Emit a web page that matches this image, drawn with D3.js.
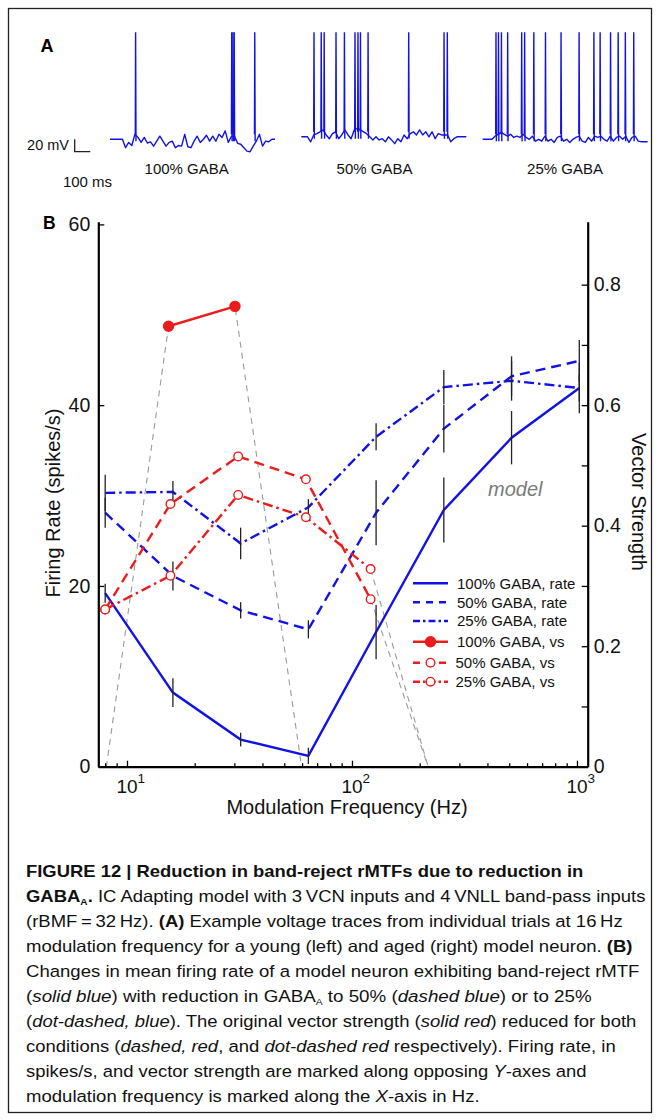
<!DOCTYPE html>
<html lang="en">
<head>
<meta charset="utf-8">
<style>
  html, body { margin:0; padding:0; background:#fff; }
  svg { display:block; font-family: "Liberation Sans", Arial, sans-serif; }
  .axis path, .axis line { stroke:#000; }
  .axis path { stroke-width:2.2px; }
  .axis line { stroke-width:1.3px; }
  .axis text { font-size:19.5px; fill:#111; }
</style>
</head>
<body>
<svg width="658" height="1120"></svg>
<script src="https://d3js.org/d3.v7.min.js"></script>
<script>
// ---------- panel A : voltage traces, mV above rest, one sample every 20 ms ----------
var traceStep = 20;
var traceLabels = ["100% GABA", "50% GABA", "25% GABA"];
var trace100 = [0,0,0,0,0, -13.5,-5,-10,8,3, -5,3,-6,-4,-11, -3,5,-3,-11,-5,
                -3,-13.5,-10,-11,8, -12,-13.5,-3,5,-5, 0,6.5,-3,5,-3, 8,3,13.5,-5,5,
                5,-6.5,-8,-13.5,-19, -20,-11,-3,8,-11, -3,-4,0,0];
var trace50  = [0,0,0,-8,3, 5,8,11,3,-3, 5,8,-3,3,11, 3,-3,11,13.5,11,
                8,5,0,-5,0, -5,-3,-8,0,-5, -11,-3,-8,3,-3, 5,8,3,11,3,
                8,0,8,-3,5, 3,3,3,-8,-3, 0,0,0,0];
var trace25  = [0,0,0,0,5, 8,11,8,5,8, 3,5,3,8,3, 0,5,-3,0,-3,
                5,-3,0,-5,3, 5,-3,0,-5,0, 3,5,-3,-5,3, -3,5,3,5,0,
                -3,5,-3,3,5, 0,5,-5,3,5, -3,-4,-4,-4];
var spikes100 = [164.5, 782, 790, 798, 930];
var spikes50  = [81.5, 128, 147, 223, 277, 345, 364, 380, 429, 690, 917, 938];
var spikes25  = [86, 102, 121, 161, 251, 270, 329, 404, 504, 620, 715, 755, 822, 871, 917, 971];
var traceRest = [0, 4, 0];
var spikePeak = 172;     // mV above rest
var spikeFoot = 8;
var scaleBarMv = 20, scaleBarMs = 100;

// ---------- panel B : rate (left axis) and vector strength (right axis) ----------
var freqs = [8, 16, 32, 64, 128, 256, 512, 1024];
var rate100 = [19.2, 8.2, 3.0, 1.2, 14.9, 28.4, 36.4, 41.9];
var rate100Err = [1.05, 1.6, 0.75, 0.9, 3.0, 3.6, 2.95, 2.8];
var rate50 = [28.1, 21.1, 17.3, 15.2, 28.1, 37.4, 43.2, 44.9];
var rate50Err = [1.65, 1.6, 0.9, 1.0, 3.6, 2.65, 2.2, 2.3];
var rate25 = [30.3, 30.4, 24.7, 28.7, 36.5, 42.0, 42.7, 41.9];
var rate25Err = [2.0, 1.2, 1.75, 0.9, 1.5, 1.9, 2.2, 1.5];

var vsFreq100 = [15.3, 30.2];
var vs100 = [0.731, 0.764];
var vsFreq = [8, 15.6, 31.2, 62.4, 121];
var vs50 = [0.261, 0.436, 0.515, 0.477, 0.278];
var vs25 = [0.261, 0.317, 0.451, 0.414, 0.328];
// grey dashed connectors to the points where vector strength drops to zero
var greyFreq100 = [8.1, 15.3, 30.2, 59.7];
var greyVs100 = [0, 0.731, 0.764, 0];
var greyTailFreq = [121, 218];
var greyTail50 = [0.278, 0];
var greyTail25 = [0.328, 0];

var leftTicks = [0, 20, 40, 60];
var rightTicks = [0, 0.1, 0.2, 0.3, 0.4, 0.5, 0.6, 0.7, 0.8];
var rightTickLabels = ["0", "", "0.2", "", "0.4", "", "0.6", "", "0.8"];
var xMajor = [10, 100, 1000];
var xMajorExp = ["1", "2", "3"];
var xMinor = [8, 9, 20, 30, 40, 50, 60, 70, 80, 90, 200, 300, 400, 500, 600, 700, 800, 900];

var legendLabels = ["100% GABA, rate", "50% GABA, rate", "25% GABA, rate",
                    "100% GABA, vs", "50% GABA, vs", "25% GABA, vs"];

var captionLines = [
  [["b", "FIGURE 12 | Reduction in band-reject rMTFs due to reduction in"]],
  [["b", "GABA"], ["bs", "A"], ["b", "."], ["", " IC Adapting model with 3\u2009VCN inputs and 4\u2009VNLL band-pass inputs"]],
  [["", "(rBMF\u2009=\u200932\u2009Hz). "], ["b", "(A)"], ["", " Example voltage traces from individual trials at 16\u2009Hz"]],
  [["", "modulation frequency for a young (left) and aged (right) model neuron. "], ["b", "(B)"]],
  [["", "Changes in mean firing rate of a model neuron exhibiting band-reject rMTF"]],
  [["", "("], ["i", "solid blue"], ["", ") with reduction in GABA"], ["s", "A"], ["", " to 50% ("], ["i", "dashed blue"], ["", ") or to 25%"]],
  [["", "("], ["i", "dot-dashed, blue"], ["", "). The original vector strength ("], ["i", "solid red"], ["", ") reduced for both"]],
  [["", "conditions ("], ["i", "dashed, red"], ["", ", and "], ["i", "dot-dashed red"], ["", " respectively). Firing rate, in"]],
  [["", "spikes/s, and vector strength are marked along opposing "], ["i", "Y"], ["", "-axes and"]],
  [["", "modulation frequency is marked along the "], ["i", "X"], ["", "-axis in Hz."]]
];
var captionWidths = [558, 620, 597, 607, 614, 566, 611, 590, 561, 454];

var blue = "#1212e6", red = "#ea1c1c", grey = "#9a9a9a";

var svg = d3.select("svg");
svg.append("rect").attr("width", 658).attr("height", 1120).attr("fill", "#fff");
svg.append("rect")
    .attr("x", 8.5).attr("y", 8.5).attr("width", 643).attr("height", 1104)
    .attr("fill", "none").attr("stroke", "#222").attr("stroke-width", 1.3);

// ================= panel A =================
var tx = d3.scaleLinear().domain([0, 1060]).range([0, 165]);
var ty = d3.scaleLinear().domain([0, spikePeak]).range([139.3, 32.3]);
var traceX0 = [110, 301.3, 482.6];
var traces = [trace100, trace50, trace25];
var spikeSets = [spikes100, spikes50, spikes25];
var labelCx = [186.7, 374.5, 565];

svg.append("text").attr("x", 40.5).attr("y", 52)
    .attr("font-weight", "bold").attr("font-size", 18).text("A");

traces.forEach(function (tr, i) {
    var g = svg.append("g").attr("transform", "translate(" + traceX0[i] + ",0)");
    var line = d3.line()
        .x(function (v, j) { return tx(j * traceStep); })
        .y(function (v) { return ty(v + traceRest[i]); });
    g.append("path").datum(tr).attr("d", line)
        .attr("fill", "none").attr("stroke", blue).attr("stroke-width", 1.4)
        .attr("stroke-linejoin", "round");
    g.selectAll(".spike").data(spikeSets[i]).enter().append("path")
        .attr("class", "spike")
        .attr("d", function (t) {
            return "M" + tx(t - 2) + "," + ty(spikeFoot + traceRest[i]) +
                   "L" + tx(t) + "," + ty(spikePeak) +
                   "L" + tx(t + 2.5) + "," + ty(traceRest[i] - 3);
        })
        .attr("fill", "none").attr("stroke", blue).attr("stroke-width", 1.4);
    svg.append("text").attr("x", labelCx[i]).attr("y", 174)
        .attr("text-anchor", "middle").attr("font-size", 15).attr("fill", "#111")
        .text(traceLabels[i]);
});

// scale bar
var sb = svg.append("g").attr("transform", "translate(74.7,151.7)");
sb.append("path")
    .attr("d", "M0," + (ty(scaleBarMv) - ty(0)) + "V0H" + tx(scaleBarMs))
    .attr("fill", "none").attr("stroke", "#222").attr("stroke-width", 1.3);
svg.append("text").attr("x", 69).attr("y", 150).attr("text-anchor", "end")
    .attr("font-size", 14.5).attr("fill", "#111").text(scaleBarMv + " mV");
svg.append("text").attr("x", 87.5).attr("y", 187).attr("text-anchor", "middle")
    .attr("font-size", 15).attr("fill", "#111").text(scaleBarMs + " ms");

// ================= panel B =================
var x = d3.scaleLog().domain([7.456, 1116]).range([98.3, 587.7]);
var yL = d3.scaleLinear().domain([0, 60.3]).range([766.7, 221.7]);
var yR = d3.scaleLinear().domain([0, 0.9045]).range([766.7, 221.7]);

svg.append("text").attr("x", 43).attr("y", 229.3)
    .attr("font-weight", "bold").attr("font-size", 17.5).text("B");

// grey connectors
function greyLine(fs, vs) {
    svg.append("path")
        .datum(fs.map(function (f, i) { return [f, vs[i]]; }))
        .attr("d", d3.line().x(function (d) { return x(d[0]); }).y(function (d) { return yR(d[1]); }))
        .attr("fill", "none").attr("stroke", grey).attr("stroke-width", 1.1)
        .attr("stroke-dasharray", "6,5");
}
greyLine(greyFreq100, greyVs100);
greyLine(greyTailFreq, greyTail50);
greyLine(greyTailFreq, greyTail25);

var rateLine = d3.line().x(function (d) { return x(d[0]); }).y(function (d) { return yL(d[1]); });
var vsLine = d3.line().x(function (d) { return x(d[0]); }).y(function (d) { return yR(d[1]); });

var rateSeries = [
    { v: rate100, e: rate100Err, dash: null },
    { v: rate50, e: rate50Err, dash: "10,6" },
    { v: rate25, e: rate25Err, dash: "10,4,2.5,4" }
];
rateSeries.forEach(function (s) {
    svg.append("path")
        .datum(freqs.map(function (f, i) { return [f, s.v[i]]; }))
        .attr("d", rateLine)
        .attr("fill", "none").attr("stroke", blue).attr("stroke-width", 2.4)
        .attr("stroke-dasharray", s.dash);
});
// error bars
rateSeries.forEach(function (s) {
    svg.selectAll(null).data(freqs).enter().append("line")
        .attr("x1", function (f) { return x(f); })
        .attr("x2", function (f) { return x(f); })
        .attr("y1", function (f, i) { return yL(s.v[i] - s.e[i]); })
        .attr("y2", function (f, i) { return yL(s.v[i] + s.e[i]); })
        .attr("stroke", "#222").attr("stroke-width", 1.3);
});

// vector strength
var vsSeries = [
    { f: vsFreq100, v: vs100, dash: null, filled: true },
    { f: vsFreq, v: vs50, dash: "10,6", filled: false },
    { f: vsFreq, v: vs25, dash: "10,4,2.5,4", filled: false }
];
vsSeries.forEach(function (s) {
    var pts = s.f.map(function (f, i) { return [f, s.v[i]]; });
    svg.append("path").datum(pts).attr("d", vsLine)
        .attr("fill", "none").attr("stroke", red).attr("stroke-width", 2.4)
        .attr("stroke-dasharray", s.dash);
    svg.selectAll(null).data(pts).enter().append("circle")
        .attr("cx", function (d) { return x(d[0]); })
        .attr("cy", function (d) { return yR(d[1]); })
        .attr("r", s.filled ? 5 : 4.3)
        .attr("fill", s.filled ? red : "#fff")
        .attr("stroke", red).attr("stroke-width", 1.4);
});

// axes
svg.append("g").attr("class", "axis").attr("transform", "translate(98.3,0)")
    .call(d3.axisLeft(yL).tickValues(leftTicks).tickSizeInner(-6).tickSizeOuter(0).tickPadding(8));
svg.append("g").attr("class", "axis").attr("transform", "translate(587.7,0)")
    .call(d3.axisRight(yR).tickValues(rightTicks).tickSizeInner(-6).tickSizeOuter(0).tickPadding(6)
        .tickFormat(function (d, i) { return rightTickLabels[i]; }));
var xa = svg.append("g").attr("class", "axis").attr("transform", "translate(0,766.7)");
xa.call(d3.axisBottom(x).tickValues(xMajor).tickSizeInner(-6).tickSizeOuter(0).tickFormat(""));
svg.append("g").attr("class", "axis").attr("transform", "translate(0,766.7)")
    .call(d3.axisBottom(x).tickValues(xMinor).tickSizeInner(-3.5).tickSizeOuter(0).tickFormat(""))
    .select(".domain").remove();
xMajor.forEach(function (f, i) {
    svg.append("text").attr("x", x(f)).attr("y", 793.3).attr("text-anchor", "middle")
        .attr("font-size", 19).attr("fill", "#111").text("10");
    svg.append("text").attr("x", x(f) + 10.5).attr("y", 783).attr("font-size", 13.5)
        .attr("fill", "#111").text(xMajorExp[i]);
});

// axis titles
svg.append("text").attr("x", 347).attr("y", 814).attr("text-anchor", "middle")
    .attr("font-size", 20).attr("fill", "#111").text("Modulation Frequency (Hz)");
svg.append("text").attr("transform", "translate(60,503) rotate(-90)")
    .attr("text-anchor", "middle").attr("font-size", 20).attr("fill", "#111")
    .text("Firing Rate (spikes/s)");
svg.append("text").attr("transform", "translate(632,502) rotate(90)")
    .attr("text-anchor", "middle").attr("font-size", 20).attr("fill", "#111")
    .text("Vector Strength");
svg.append("text").attr("x", 488).attr("y", 496).attr("font-size", 20)
    .attr("font-style", "italic").attr("fill", "#7a7a7a").text("model");

// legend
var legendY = [583.3, 602.3, 621, 641.7, 662.7, 681.7];
var legendStyle = [
    { c: blue, dash: null, m: null }, { c: blue, dash: "7,6", m: null },
    { c: blue, dash: "7,3,2.5,3", m: null }, { c: red, dash: null, m: "filled" },
    { c: red, dash: "7,6", m: "open" }, { c: red, dash: "7,3,2.5,3", m: "open" }
];
legendLabels.forEach(function (lab, i) {
    var st = legendStyle[i];
    var g = svg.append("g").attr("transform", "translate(0," + legendY[i] + ")");
    g.append("line").attr("x1", 413).attr("x2", 448)
        .attr("stroke", st.c).attr("stroke-width", 2.4).attr("stroke-dasharray", st.dash);
    if (st.m) {
        g.append("circle").attr("cx", 430.5).attr("r", st.m === "filled" ? 5 : 4.3)
            .attr("fill", st.m === "filled" ? red : "#fff")
            .attr("stroke", red).attr("stroke-width", 1.4);
    }
    g.append("text").attr("x", i >= 4 ? 455.5 : 457).attr("y", 5.3)
        .attr("font-size", 15).attr("fill", "#111").text(lab);
});

// ================= caption =================
captionLines.forEach(function (segs, i) {
    var t = svg.append("text").attr("font-size", 16.5).attr("fill", "#111")
        .style("font-family", "'Liberation Sans Narrow', 'Liberation Sans', Arial, sans-serif");
    segs.forEach(function (s) {
        var sp = t.append("tspan").text(s[1]);
        if (s[0].indexOf("b") >= 0) sp.attr("font-weight", "bold");
        if (s[0].indexOf("i") >= 0) sp.attr("font-style", "italic");
        if (s[0].indexOf("s") >= 0) sp.attr("font-size", 9).attr("dy", 3);
    });
    // undo subscript shift for following text
    t.selectAll("tspan").each(function (d, j, nodes) {
        if (j > 0 && segs[j - 1][0].indexOf("s") >= 0) d3.select(this).attr("dy", -3);
    });
    var w = t.node().getComputedTextLength();
    t.attr("transform", "translate(26," + (877 + i * 25) + ") scale(" + (captionWidths[i] / w) + ",1)");
});
</script>
</body>
</html>
